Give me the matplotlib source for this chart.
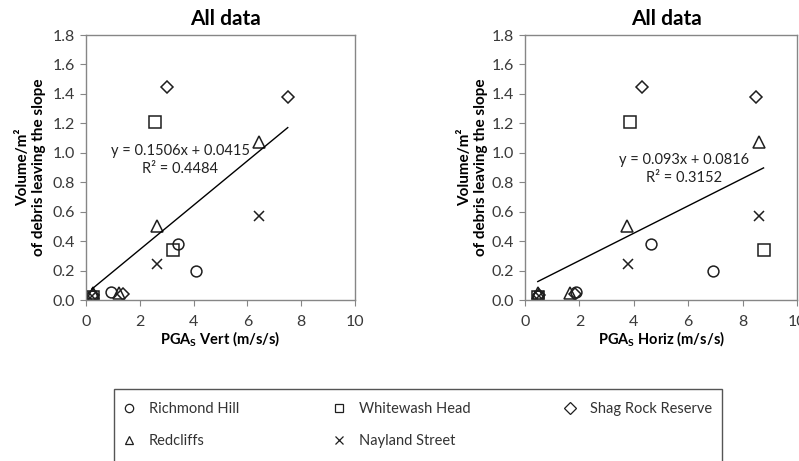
import numpy as np
import matplotlib
matplotlib.use("Agg")
import matplotlib.pyplot as plt
from matplotlib.patches import Rectangle

plt.rcParams['font.family'] = ['Lato', 'DejaVu Sans']
plt.rcParams['mathtext.fontset'] = 'custom'
plt.rcParams['mathtext.rm'] = 'Lato'
plt.rcParams['mathtext.bf'] = 'Lato:bold'

# data: PGA vert, PGA horiz, volume per site
sites = ['Richmond Hill', 'Redcliffs', 'Whitewash Head', 'Nayland Street', 'Shag Rock Reserve']
markers = ['o', '^', 's', 'x', 'D']

richmond_vert = [0.22, 0.93, 3.42, 4.10]
richmond_horiz = [0.47, 1.89, 4.65, 6.91]
richmond_vol = [0.03, 0.054, 0.38, 0.196]

redcliffs_vert = [0.25, 1.21, 2.65, 6.42]
redcliffs_horiz = [0.48, 1.64, 3.74, 8.62]
redcliffs_vol = [0.05, 0.05, 0.50, 1.07]

whitewash_vert = [0.25, 2.58, 3.25]
whitewash_horiz = [0.49, 3.85, 8.77]
whitewash_vol = [0.02, 1.21, 0.34]

nayland_vert = [0.24, 2.65, 6.43]
nayland_horiz = [0.50, 3.77, 8.60]
nayland_vol = [0.03, 0.245, 0.57]

shag_vert = [0.26, 1.36, 3.00, 7.50]
shag_horiz = [0.50, 1.85, 4.30, 8.49]
shag_vol = [0.035, 0.04, 1.45, 1.38]

# trendline values printed on the chart (vert, horiz)
slopes = [0.1506, 0.093]
intercepts = [0.0415, 0.0816]
r_squared = ['0.4484', '0.3152']

xlabels = ['PGA$_{\\mathbf{S}}$ Vert (m/s/s)', 'PGA$_{\\mathbf{S}}$ Horiz (m/s/s)']
ylabel = 'Volume/m²\nof debris leaving the slope'
yticks = [0.0, 0.2, 0.4, 0.6, 0.8, 1.0, 1.2, 1.4, 1.6, 1.8]
xticks = [0, 2, 4, 6, 8, 10]

vert_x = [richmond_vert, redcliffs_vert, whitewash_vert, nayland_vert, shag_vert]
horiz_x = [richmond_horiz, redcliffs_horiz, whitewash_horiz, nayland_horiz, shag_horiz]
vols = [richmond_vol, redcliffs_vol, whitewash_vol, nayland_vol, shag_vol]
marker_sizes = {'o': 7.8, '^': 8, 's': 8, 'x': 7.8, 'D': 6}

grey = '#868686'
ink = '#1e1e1e'


def draw_panel(ax, xs, slope, intercept, r2, xlabel, eq_xy, ylab_x):
    for x, y, m in zip(xs, vols, markers):
        ax.plot(x, y, linestyle='none', marker=m, ms=marker_sizes[m],
                mfc='none', mec=ink, mew=1.1)
    allx = np.concatenate([np.asarray(x) for x in xs])
    xx = np.array([allx.min(), allx.max()])
    ax.plot(xx, slope * xx + intercept, color='black', lw=1.0)
    ax.text(eq_xy[0], eq_xy[1], f'y = {slope}x + {intercept}\nR² = {r2}',
            ha='center', va='center', fontsize=10.5, color='#222222', linespacing=1.3)

    ax.set_xlim(0, 10)
    ax.set_ylim(0, 1.8)
    ax.set_xticks(xticks)
    ax.set_yticks(yticks)
    ax.set_yticklabels([f'{v:.1f}' for v in yticks])
    ax.tick_params(direction='out', length=4, width=0.8, color=grey,
                   labelsize=11.5, labelcolor='#3a3a3a')
    ax.tick_params(axis='x', pad=7)
    ax.tick_params(axis='y', pad=4)
    for sp in ax.spines.values():
        sp.set_color(grey)
        sp.set_linewidth(1.0)

    ax.set_title('All data', fontsize=15, fontweight='bold', pad=7, x=0.52)
    ax.set_xlabel(xlabel, fontsize=10.5, fontweight='bold', va='center')
    ax.xaxis.set_label_coords(0.5, -0.15)
    ax.set_ylabel(ylabel, fontsize=11, fontweight='bold', va='center', linespacing=1.15)
    ax.yaxis.set_label_coords(ylab_x, 0.5)


fig = plt.figure(figsize=(7.99, 4.61), dpi=100)
ax1 = fig.add_axes([86 / 799, 161 / 461, 269 / 799, 265 / 461])
ax2 = fig.add_axes([525 / 799, 161 / 461, 272 / 799, 265 / 461])

draw_panel(ax1, vert_x, slopes[0], intercepts[0], r_squared[0], xlabels[0], (3.5, 0.95), -0.205)
draw_panel(ax2, horiz_x, slopes[1], intercepts[1], r_squared[1], xlabels[1], (5.85, 0.89), -0.19)

# legend box (cut off by the bottom edge in the reference)
fig.add_artist(Rectangle((114 / 799, -0.1), 608 / 799, 0.1 + 72 / 461,
                         transform=fig.transFigure, fill=False, ec='#555555', lw=1.0))

handles = [plt.Line2D([], [], linestyle='none', marker=m, ms=6,
                      mfc='none', mec=ink, mew=0.9) for m in markers]
fig.legend(handles, sites, ncol=3, loc='upper left',
           bbox_to_anchor=(122 / 799, 0.127), frameon=False, fontsize=10.5,
           handlelength=1.0, handletextpad=0.85, columnspacing=6.35,
           labelspacing=1.2, borderpad=0, borderaxespad=0, labelcolor='#333333')

fig.savefig('out.png', dpi=100, facecolor='white')
